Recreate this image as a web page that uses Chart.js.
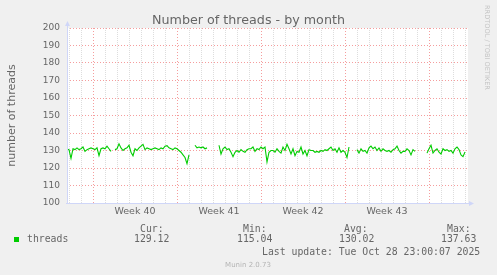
<!DOCTYPE html>
<html>
<head>
<meta charset="utf-8">
<script src="https://cdn.jsdelivr.net/npm/chart.js@4/dist/chart.umd.min.js"></script>
<style>
  html, body { margin: 0; padding: 0; background: #f0f0f0; }
  canvas { display: block; }
</style>
</head>
<body>
<canvas id="grafico" width="497" height="275"></canvas>
<script>
// threads, one sample every 4 hours from the left edge of the graph (null = no data)
const threads = [
  130.8, 130.5, 125.5, 131, 130.5, 131.5, 130.5, 131, 132, 129.5,
  130.5, 131, 131.5, 131, 130.5, 131.5, 127, 131, 131.5, 131,
  132.5, 131, 129.5, null,
  130.5, 131, 133.8, 131.5, 130, 131, 131.5, 133, 129, 127,
  131, 130, 131.5, 132.5, 133.5, 130.5, 131.5, 131, 130.5, 131,
  131.5, 131, 130.5, 131.5, 131, 132.5, 132.8, 131.5, 131, 130.5,
  131.5, 131, 130, 129, 127.5, 126, 122.5, 127.5, null, null,
  133, 131.5, 132, 131.5, 132, 131, 131.5, null, null, null, null, null,
  133, 128, 131, 132, 130.5, 131, 129, 126.5, 129, 130,
  129, 130.5, 129.5, 129, 130.5, 131, 131, 132, 129.5, 131,
  130.5, 132, 131, 132, 123.5, 129, 130, 130, 129, 131,
  129.5, 128.5, 132, 130, 133.5, 131, 128, 131, 127, 129.5,
  129, 132, 128, 130, 127, 130.5, 130, 130, 129, 129.5,
  129, 130, 129.5, 130.5, 130, 131, 132, 130, 131, 129,
  131.5, 129, 130, 129, 126, 132, null, null, null,
  130.5, 128.5, 131, 129.5, 130, 128.5, 131.5, 132.5, 131, 132,
  130, 131.5, 129.5, 131, 130, 129.5, 130, 129, 130.5, 131,
  132.5, 130, 128.5, 129.5, 129.5, 131, 130, 127.5, 130.5, 129.5,
  null, null, null, null, null,
  128.5, 131, 133, 128.5, 130, 131, 129, 128, 131, 130,
  130.5, 129.5, 130, 128.5, 131, 132, 130.5, 127.5, 126.5, 129.1
];
const stepOre = 4;
const totaleOre = 802;

const inizioSettimane = [52, 220, 388, 556, 724];   // Monday 00:00, hours from left edge
const etichetteSettimane = ['Week 40', 'Week 41', 'Week 42', 'Week 43'];
const yMin = 100, yMax = 200;

const legenda = {
  nome: 'threads',
  cur: '129.12', min: '115.04', avg: '130.02', max: '137.63',
  aggiornamento: 'Last update: Tue Oct 28 23:00:07 2025'
};

const punti = threads.map((v, i) => ({ x: i * stepOre, y: v }));

// daily grid lines plus the label positions in the middle of each week
const giorni = [];
for (let h = inizioSettimane[0] % 24; h < totaleOre; h += 24) giorni.push(h);
const metaSettimane = etichetteSettimane.map((_, i) => inizioSettimane[i] + 84);
const xTicks = giorni.concat(metaSettimane).sort((a, b) => a - b);

const coloreMaggiore = 'rgba(235, 60, 60, 0.5)';
const coloreMinore = 'rgba(150, 150, 150, 0.32)';
const asse = '#cfd6f8';
const testo = '#666666';

const munin = {
  id: 'munin',
  beforeDraw(chart) {
    const { ctx, chartArea: a } = chart;
    ctx.save();
    ctx.fillStyle = '#f0f0f0';
    ctx.fillRect(0, 0, chart.width, chart.height);
    ctx.fillStyle = '#ffffff';
    ctx.fillRect(a.left, a.top, a.right - a.left, a.bottom - a.top);
    ctx.restore();
  },
  afterDraw(chart) {
    const { ctx, chartArea: a } = chart;
    ctx.save();
    // axes with arrows
    ctx.strokeStyle = asse;
    ctx.fillStyle = asse;
    ctx.lineWidth = 1;
    ctx.beginPath();
    ctx.moveTo(a.left + 0.5, a.bottom + 0.5);
    ctx.lineTo(a.left + 0.5, a.top - 2);
    ctx.moveTo(a.left - 1, a.bottom + 0.5);
    ctx.lineTo(a.right + 1, a.bottom + 0.5);
    ctx.stroke();
    ctx.beginPath();
    ctx.moveTo(a.left + 0.5, a.top - 7);
    ctx.lineTo(a.left + 3, a.top - 2);
    ctx.lineTo(a.left - 2, a.top - 2);
    ctx.fill();
    ctx.beginPath();
    ctx.moveTo(a.right + 6, a.bottom + 0.5);
    ctx.lineTo(a.right + 1, a.bottom - 2);
    ctx.lineTo(a.right + 1, a.bottom + 3);
    ctx.fill();

    // title
    ctx.fillStyle = testo;
    ctx.font = '12.7px "DejaVu Sans"';
    ctx.textAlign = 'center';
    ctx.textBaseline = 'alphabetic';
    ctx.fillText('Number of threads - by month', 248.5, 24);

    // vertical axis title
    ctx.save();
    ctx.translate(14.5, (a.top + a.bottom) / 2);
    ctx.rotate(-Math.PI / 2);
    ctx.font = '11px "DejaVu Sans"';
    ctx.fillText('number of threads', 0, 0);
    ctx.restore();

    // rrdtool watermark
    ctx.save();
    ctx.translate(484.5, 5);
    ctx.rotate(Math.PI / 2);
    ctx.fillStyle = '#c4c4c4';
    ctx.font = '6.6px "DejaVu Sans"';
    ctx.textAlign = 'left';
    ctx.fillText('RRDTOOL / TOBI OETIKER', 0, 0);
    ctx.restore();

    // legend
    ctx.fillStyle = '#00cc00';
    ctx.fillRect(14, 237, 5, 5);
    ctx.fillStyle = testo;
    ctx.font = '9.8px "DejaVu Sans Mono"';
    ctx.textAlign = 'left';
    ctx.fillText(legenda.nome, 27, 242.3);
    ctx.fillText('Cur:', 140, 231.5);
    ctx.fillText('Min:', 243, 231.5);
    ctx.fillText('Avg:', 344, 231.5);
    ctx.fillText('Max:', 447, 231.5);
    ctx.fillText(legenda.cur, 134, 242.3);
    ctx.fillText(legenda.min, 237, 242.3);
    ctx.fillText(legenda.avg, 339, 242.3);
    ctx.fillText(legenda.max, 441, 242.3);
    ctx.fillText(legenda.aggiornamento, 262, 254.5);

    ctx.fillStyle = '#b4b4b4';
    ctx.font = '7px "DejaVu Sans"';
    ctx.textAlign = 'center';
    ctx.fillText('Munin 2.0.73', 248, 267);
    ctx.restore();
  }
};

const ctx = document.getElementById('grafico').getContext('2d');
new Chart(ctx, {
  type: 'line',
  data: {
    datasets: [{
      label: legenda.nome,
      data: punti,
      borderColor: '#00cc00',
      borderWidth: 1.1,
      pointRadius: 0,
      tension: 0,
      fill: false,
      spanGaps: false
    }]
  },
  options: {
    responsive: false,
    animation: false,
    events: [],
    layout: { padding: { left: 0, right: 29, top: 28, bottom: 52 } },
    plugins: {
      legend: { display: false },
      title: { display: false },
      tooltip: { enabled: false }
    },
    scales: {
      x: {
        type: 'linear',
        min: 0,
        max: totaleOre,
        afterFit: s => { s.height = 20; },
        afterBuildTicks: s => { s.ticks = xTicks.map(v => ({ value: v })); },
        grid: {
          drawTicks: false,
          lineWidth: 1,
          color: c => {
            const v = c.tick.value;
            if (inizioSettimane.includes(v)) return coloreMaggiore;
            if (metaSettimane.includes(v)) return 'rgba(0,0,0,0)';
            return coloreMinore;
          }
        },
        border: {
          display: false,
          dash: c => (c.tick && inizioSettimane.includes(c.tick.value) ? [1, 2] : [1, 1])
        },
        ticks: {
          autoSkip: false,
          maxRotation: 0,
          padding: 3,
          color: testo,
          font: { family: 'DejaVu Sans', size: 9.5 },
          callback: v => {
            const i = metaSettimane.indexOf(v);
            return i >= 0 ? etichetteSettimane[i] : '';
          }
        }
      },
      y: {
        min: yMin,
        max: yMax,
        afterFit: s => { s.width = 67; },
        grid: {
          drawTicks: false,
          lineWidth: 1,
          color: c => (c.tick.value % 10 === 0 ? coloreMaggiore : coloreMinore)
        },
        border: {
          display: false,
          dash: c => (c.tick && c.tick.value % 10 === 0 ? [1, 2] : [1, 1])
        },
        ticks: {
          stepSize: 5,
          padding: 7,
          color: testo,
          font: { family: 'DejaVu Sans', size: 9 },
          callback: v => (v % 10 === 0 ? String(v) : '')
        }
      }
    }
  },
  plugins: [munin]
});
</script>
</body>
</html>
